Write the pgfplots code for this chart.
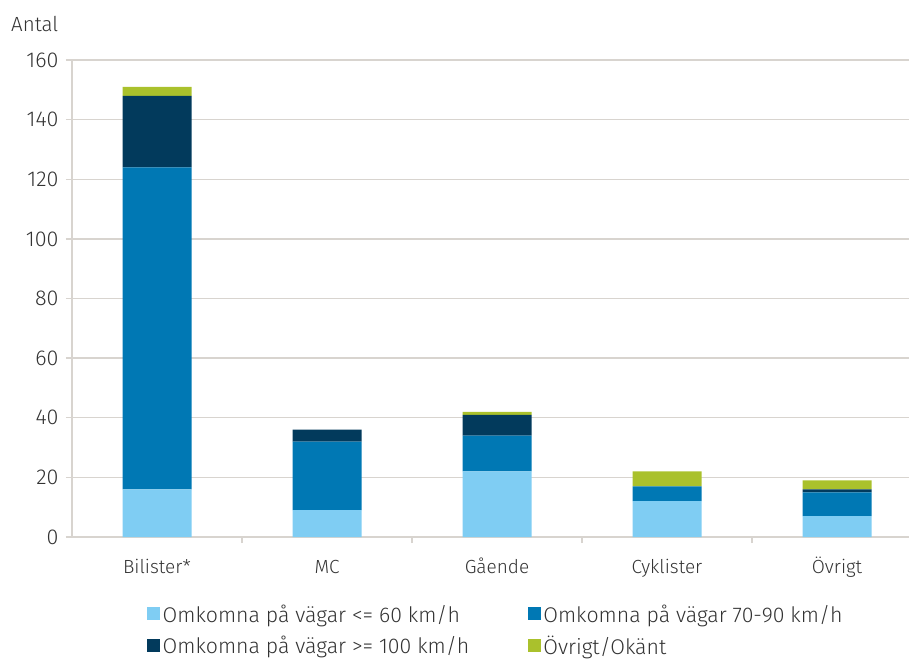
\documentclass[border=0pt]{standalone}
\usepackage{fontspec}
\setmainfont{Fira Sans Light}
\usepackage{pgfplots}
\pgfplotsset{compat=1.18}
\definecolor{cLight}{HTML}{7FCDF3}
\definecolor{cMid}{HTML}{0078B4}
\definecolor{cDark}{HTML}{023A5C}
\definecolor{cGreen}{HTML}{AAC12C}
\definecolor{gridgray}{HTML}{D8D4CF}
\definecolor{textgray}{HTML}{333333}
\begin{document}
\begin{tikzpicture}[font=\fontsize{20}{24}\selectfont]
\path[use as bounding box] (0,0) rectangle (909pt,658pt);
\begin{axis}[
  at={(72pt,121pt)}, anchor=south west,
  scale only axis, width=837pt, height=477pt,
  ybar stacked, bar width=69pt,
  xmin=-0.5, xmax=4.4235, ymin=0, ymax=160,
  xtick={0,1,2,3,4},
  xticklabels={Bilister*,MC,Gående,Cyklister,Övrigt},
  minor xtick={0.5,1.5,2.5,3.5},
  ytick={0,20,...,160},
  axis x line*=bottom, axis y line*=left,
  ymajorgrids,
  grid style={color=gridgray, line width=1.3pt},
  axis line style={gridgray, line width=1.3pt},
  tick style={gridgray, line width=1.3pt},
  tick align=outside, major tick length=6pt, minor tick length=6pt,
  major x tick style={draw=none},
  tick label style={text=textgray},
  xticklabel style={font=\fontsize{19}{23}\selectfont, anchor=base, yshift=-30pt, inner sep=0pt},
  yticklabel style={font=\fontsize{21.5}{25}\selectfont, xshift=-4pt},
  /pgf/number format/assume math mode=true,
  legend columns=2,
  legend style={at={(axis description cs:0.0896,-0.136)}, anchor=north west,
    draw=none, fill=none, inner sep=0pt, text=textgray,
    font=\fontsize{21.3}{25}\selectfont,
    nodes={inner sep=2.5pt},
    /tikz/every even column/.append style={column sep=56pt},
    row sep=7pt},
  legend cell align=left,
  legend image code/.code={\fill[#1] (0pt,-6pt) rectangle (13pt,7pt);},
]
\addplot[fill=cLight, draw=none] coordinates {(0,16) (1,9) (2,22) (3,12) (4,7)};
\addplot[fill=cMid, draw=none] coordinates {(0,108) (1,23) (2,12) (3,5) (4,8)};
\addplot[fill=cDark, draw=none] coordinates {(0,24) (1,4) (2,7) (3,0) (4,1)};
\addplot[fill=cGreen, draw=none] coordinates {(0,3) (1,0) (2,1) (3,5) (4,3)};
\legend{Omkomna på vägar <= 60 km/h, Omkomna på vägar 70-90 km/h, Omkomna på vägar >= 100 km/h, Övrigt/Okänt}
\end{axis}
\node[anchor=base west, inner sep=0pt, text=textgray, font=\fontsize{20.5}{24}\selectfont] at (11pt,626pt) {Antal};
\end{tikzpicture}
\end{document}
